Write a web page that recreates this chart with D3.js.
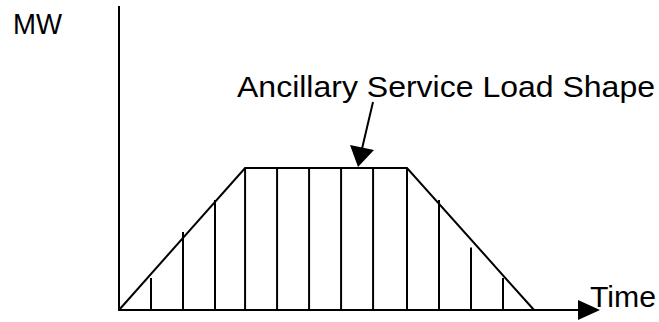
<!DOCTYPE html>
<html>
<head>
<meta charset="utf-8">
<script src="https://cdn.jsdelivr.net/npm/d3@7"></script>
<style>
  html, body { margin: 0; padding: 0; background: #fff; }
  svg { display: block; }
  text { font-family: "Liberation Sans", Arial, sans-serif; fill: #000; }
</style>
</head>
<body>
<svg id="chart" width="659" height="322"></svg>
<script>
// Load shape outline (time, MW)
const shapeTimes = [0, 3.94, 9, 12.97];
const shapeValues = [0, 10, 10, 0];
// Hourly vertical bars (time, MW)
const barTimes = [1, 2, 3, 3.94, 4.94, 5.94, 6.94, 7.94, 9, 10, 11, 12];
const barValues = [2.25, 5.5, 7.75, 10, 10, 10, 10, 10, 10, 7.75, 4.4, 2.25];
const yLabel = "MW";
const xLabel = "Time";
const annotation = "Ancillary Service Load Shape";
const annotationTime = 7.5;

const svg = d3.select("#chart");
const x = d3.scaleLinear().domain([0, 15]).range([119, 599]);
const y = d3.scaleLinear().domain([0, 10]).range([310, 168]);

// Bars
svg.append("g").selectAll("line").data(barTimes).join("line")
  .attr("x1", d => x(d)).attr("x2", d => x(d))
  .attr("y1", y(0)).attr("y2", (d, i) => y(barValues[i]))
  .attr("stroke", "#000").attr("stroke-width", 2);

// Shape
const pts = shapeTimes.map((t, i) => [t, shapeValues[i]]);
svg.append("path")
  .attr("d", d3.line().x(d => x(d[0])).y(d => y(d[1]))(pts))
  .attr("fill", "none").attr("stroke", "#000").attr("stroke-width", 2);

// Axes
svg.append("line").attr("x1", x(0)).attr("x2", x(0))
  .attr("y1", 6).attr("y2", y(0) + 1)
  .attr("stroke", "#000").attr("stroke-width", 2);
svg.append("line").attr("x1", x(0) - 1).attr("x2", x(15) - 18)
  .attr("y1", y(0)).attr("y2", y(0))
  .attr("stroke", "#000").attr("stroke-width", 2);
const tipX = x(15) + 1, tipY = y(0);
svg.append("path")
  .attr("d", `M${tipX},${tipY} L${tipX - 22},${tipY - 10} L${tipX - 22},${tipY + 10} Z`)
  .attr("fill", "#000");

// Labels
svg.append("text").attr("x", 13).attr("y", 34)
  .attr("font-size", 29).attr("textLength", 49).attr("lengthAdjust", "spacingAndGlyphs")
  .text(yLabel);
svg.append("text").attr("x", 590).attr("y", 307)
  .attr("font-size", 29).attr("textLength", 66).attr("lengthAdjust", "spacingAndGlyphs")
  .text(xLabel);
svg.append("text").attr("x", 237).attr("y", 97)
  .attr("font-size", 29).attr("textLength", 418).attr("lengthAdjust", "spacingAndGlyphs")
  .text(annotation);

// Annotation arrow
const ax = x(annotationTime) - 1, ay = y(10) - 1;
svg.append("line").attr("x1", 373).attr("y1", 102)
  .attr("x2", ax + 3).attr("y2", ay - 14)
  .attr("stroke", "#000").attr("stroke-width", 2);
svg.append("path")
  .attr("d", `M${ax},${ay} L${ax - 8},${ay - 22} L${ax + 16},${ay - 17} Z`)
  .attr("fill", "#000");
</script>
</body>
</html>
